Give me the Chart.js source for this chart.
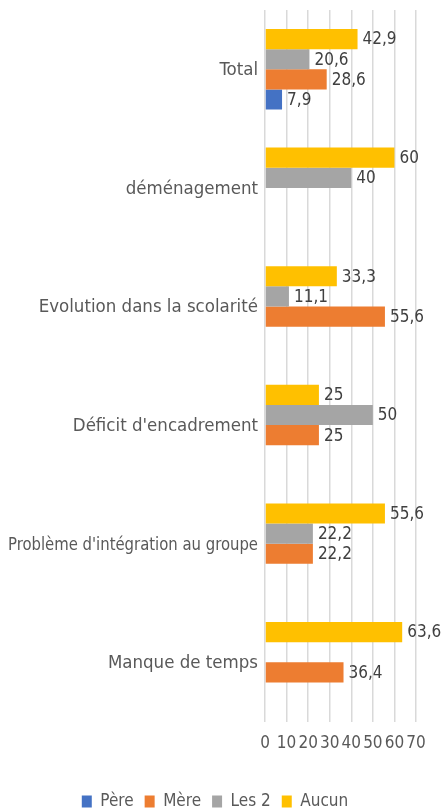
<!DOCTYPE html>
<html>
<head>
<meta charset="utf-8">
<script src="https://cdn.jsdelivr.net/npm/chart.js@4"></script>
<style>
  html, body { margin: 0; padding: 0; background: #fff; }
  #wrap { width: 444px; height: 811px; }
</style>
</head>
<body>
<div id="wrap"><canvas id="myChart" width="444" height="811"></canvas></div>
<script>
// categories, top to bottom
const categories = ['Total', 'déménagement', 'Evolution dans la scolarité', "Déficit d'encadrement", "Problème d'intégration au groupe", 'Manque de temps'];

// series values (%), null = no bar
const pere   = [7.9, null, null, null, null, null];
const mere   = [28.6, null, 55.6, 25, 22.2, 36.4];
const les2   = [20.6, 40, 11.1, 50, 22.2, null];
const aucun  = [42.9, 60, 33.3, 25, 55.6, 63.6];

const xTicks = [0, 10, 20, 30, 40, 50, 60, 70];

const FONT = "'DejaVu Sans Condensed', 'Liberation Sans Narrow', sans-serif";
Chart.defaults.font.family = FONT;
Chart.defaults.font.size = 17;
Chart.defaults.color = '#595959';

// category names on the left; long ones get squeezed into the axis width
const categoryLabels = {
    id: 'categoryLabels',
    afterDraw(chart) {
        const ctx = chart.ctx;
        const y = chart.scales.y;
        ctx.save();
        ctx.font = '18.5px ' + FONT;
        ctx.fillStyle = '#595959';
        ctx.textAlign = 'right';
        ctx.textBaseline = 'middle';
        categories.forEach((c, i) => {
            ctx.fillText(c, y.right - 7, y.getPixelForValue(i) + 1, 250);
        });
        ctx.restore();
    }
};

// write the value next to the end of each bar, french decimal comma
const valueLabels = {
    id: 'valueLabels',
    afterDatasetsDraw(chart) {
        const ctx = chart.ctx;
        ctx.save();
        ctx.font = '17px ' + FONT;
        ctx.fillStyle = '#404040';
        ctx.textAlign = 'left';
        ctx.textBaseline = 'middle';
        chart.data.datasets.forEach((ds, i) => {
            const meta = chart.getDatasetMeta(i);
            meta.data.forEach((bar, j) => {
                const v = ds.data[j];
                if (v === null || v === undefined) return;
                ctx.fillText(String(v).replace('.', ','), bar.x + 5, bar.y + 1);
            });
        });
        ctx.restore();
    }
};

let myChart = document.getElementById('myChart').getContext('2d');

let sortieChart = new Chart(myChart, {
    type: 'bar',
    data: {
        labels: categories,
        // dataset order gives Aucun on top within each group; legend is reversed
        datasets: [
            { label: 'Aucun', data: aucun, backgroundColor: '#ffc000' },
            { label: 'Les 2', data: les2, backgroundColor: '#a5a5a5' },
            { label: 'Mère', data: mere, backgroundColor: '#ed7d31' },
            { label: 'Père', data: pere, backgroundColor: '#4472c4' }
        ]
    },
    options: {
        indexAxis: 'y',
        responsive: false,
        animation: false,
        layout: { padding: { top: 10, right: 28, bottom: -9, left: 14 } },
        datasets: {
            bar: { categoryPercentage: 0.68, barPercentage: 1, skipNull: false }
        },
        scales: {
            x: {
                min: 0,
                max: 70,
                afterBuildTicks: (axis) => { axis.ticks = xTicks.map(v => ({ value: v })); },
                // extra room between the tick labels and the legend
                afterFit: (scale) => { scale.height += 16; },
                grid: { color: '#d9d9d9', lineWidth: 1.5, drawTicks: false },
                border: { display: false },
                ticks: { color: '#595959', padding: 12, autoSkip: false, maxRotation: 0, minRotation: 0, font: { size: 17 } }
            },
            y: {
                afterFit: (scale) => { scale.width = 251; },
                grid: { display: false },
                border: { display: false },
                ticks: { display: false }
            }
        },
        plugins: {
            legend: {
                position: 'bottom',
                reverse: true,
                labels: {
                    boxWidth: 10,
                    boxHeight: 12,
                    padding: 11,
                    color: '#595959',
                    font: { size: 17 }
                }
            },
            tooltip: { enabled: false }
        }
    },
    plugins: [valueLabels, categoryLabels]
});
</script>
</body>
</html>
